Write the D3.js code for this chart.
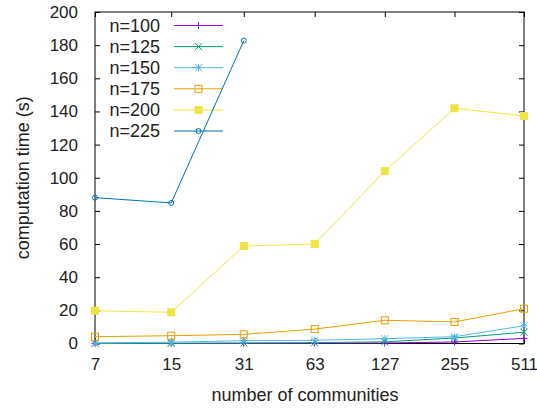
<!DOCTYPE html>
<html>
<head>
<meta charset="utf-8">
<script src="https://cdn.jsdelivr.net/npm/d3@7"></script>
<style>
  body { margin: 0; background: #fff; }
  text { font-family: "Liberation Sans", Arial, sans-serif; fill: #222; }
</style>
</head>
<body>
<div id="chart"></div>
<script>
// communities on the x axis (log2 spaced)
const communities = [7, 15, 31, 63, 127, 255, 511];
const yTicks = [0, 20, 40, 60, 80, 100, 120, 140, 160, 180, 200];

const seriesNames = ["n=100", "n=125", "n=150", "n=175", "n=200", "n=225"];
const seriesColors = ["#9400d3", "#009e73", "#56b4e9", "#e69f00", "#f0e442", "#0072b2"];
const seriesMarkers = ["plus", "cross", "star", "square", "fsquare", "circle"];

const n100 = [0.05, 0.05, 0.1, 0.15, 0.3, 0.9, 3.1];
const n125 = [0.05, 0.1, 0.3, 0.5, 1.0, 3.3, 6.8];
const n150 = [0.3, 0.8, 1.7, 1.9, 2.9, 4.1, 10.7];
const n175 = [4.1, 4.7, 5.5, 8.7, 14.0, 13.0, 21.0];
const n200 = [19.8, 18.8, 58.8, 60.0, 104.0, 141.9, 137.3];
const n225 = [88.0, 84.8, 182.7];

const seriesValues = [n100, n125, n150, n175, n200, n225];

const chart = {width: 537, height: 409, margin: {top: 12, right: 13, bottom: 65.5, left: 95}};
chart.innerWidth = chart.width - chart.margin.left - chart.margin.right;
chart.innerHeight = chart.height - chart.margin.top - chart.margin.bottom;

const fontSize = "18px";
const tickFontSize = "17px";

const svg = d3.select("#chart").append("svg")
    .attr("width", chart.width)
    .attr("height", chart.height);
const g = svg.append("g")
    .attr("transform", `translate(${chart.margin.left}, ${chart.margin.top})`);

const x = d3.scaleLog().base(2).domain([7, 511]).range([0, chart.innerWidth]);
const y = d3.scaleLinear().domain([0, 200]).range([chart.innerHeight, 0]);

// ticks pointing inward, mirrored on all four sides (gnuplot style)
const tickLen = 5;
const axisStyle = sel => {
    sel.select(".domain").remove();
    sel.selectAll("line").attr("stroke", "#000").attr("stroke-width", 1);
    sel.selectAll("text").style("font-size", tickFontSize).attr("fill", "#222");
};

g.append("g")
    .attr("transform", `translate(0, ${chart.innerHeight})`)
    .call(d3.axisBottom(x).tickValues(communities).tickFormat(d3.format("d"))
        .tickSizeInner(-tickLen).tickSizeOuter(0).tickPadding(14))
    .call(axisStyle);
g.append("g")
    .call(d3.axisTop(x).tickValues(communities).tickFormat("")
        .tickSizeInner(-tickLen).tickSizeOuter(0))
    .call(axisStyle);
g.append("g")
    .call(d3.axisLeft(y).tickValues(yTicks)
        .tickSizeInner(-tickLen).tickSizeOuter(0).tickPadding(17))
    .call(axisStyle);
g.append("g")
    .attr("transform", `translate(${chart.innerWidth}, 0)`)
    .call(d3.axisRight(y).tickValues(yTicks).tickFormat("")
        .tickSizeInner(-tickLen).tickSizeOuter(0))
    .call(axisStyle);

// frame
g.append("rect")
    .attr("width", chart.innerWidth)
    .attr("height", chart.innerHeight)
    .attr("fill", "none")
    .attr("stroke", "#000")
    .attr("stroke-width", 1);

const drawMarker = (sel, type, color) => {
    const s = 3.5;
    if (type === "plus" || type === "star") {
        sel.append("path").attr("d", `M${-s},0H${s}M0,${-s}V${s}`)
            .attr("stroke", color).attr("fill", "none");
    }
    if (type === "cross" || type === "star") {
        sel.append("path").attr("d", `M${-s},${-s}L${s},${s}M${-s},${s}L${s},${-s}`)
            .attr("stroke", color).attr("fill", "none");
    }
    if (type === "square" || type === "fsquare") {
        sel.append("rect").attr("x", -s).attr("y", -s).attr("width", 2 * s).attr("height", 2 * s)
            .attr("stroke", color).attr("fill", type === "fsquare" ? color : "none");
    }
    if (type === "circle") {
        sel.append("circle").attr("r", 2.5).attr("stroke", color).attr("fill", "none");
    }
};

const line = d3.line()
    .x(d => x(d[0]))
    .y(d => y(d[1]));

// legend rows (text right-aligned, sample line to the right)
const legendX = 160 - chart.margin.left;
const legendTop = 25.5 - chart.margin.top;
const legendStep = 21.1;

seriesValues.forEach((vals, i) => {
    const color = seriesColors[i];
    const pts = vals.map((v, j) => [communities[j], v]);

    const ly = legendTop + i * legendStep;
    g.append("text")
        .attr("x", legendX).attr("y", ly)
        .attr("dy", "0.35em")
        .attr("text-anchor", "end")
        .style("font-size", fontSize)
        .text(seriesNames[i]);
    g.append("line")
        .attr("x1", legendX + 14).attr("x2", legendX + 63)
        .attr("y1", ly).attr("y2", ly)
        .attr("stroke", color).attr("stroke-width", 1);
    g.append("g")
        .attr("transform", `translate(${legendX + 38.5}, ${ly})`)
        .call(sel => drawMarker(sel, seriesMarkers[i], color));

    g.append("path")
        .datum(pts)
        .attr("d", line)
        .attr("fill", "none")
        .attr("stroke", color)
        .attr("stroke-width", 1);

    g.append("g").selectAll("g").data(pts).enter()
        .append("g")
        .attr("transform", d => `translate(${x(d[0])}, ${y(d[1])})`)
        .each(function () { drawMarker(d3.select(this), seriesMarkers[i], color); });
});

// axis labels
svg.append("text")
    .attr("x", 305)
    .attr("y", 401)
    .attr("text-anchor", "middle")
    .style("font-size", fontSize)
    .text("number of communities");
svg.append("text")
    .attr("transform", `translate(28.5, ${chart.margin.top + chart.innerHeight / 2}) rotate(-90)`)
    .attr("text-anchor", "middle")
    .style("font-size", fontSize)
    .text("computation time (s)");
</script>
</body>
</html>
